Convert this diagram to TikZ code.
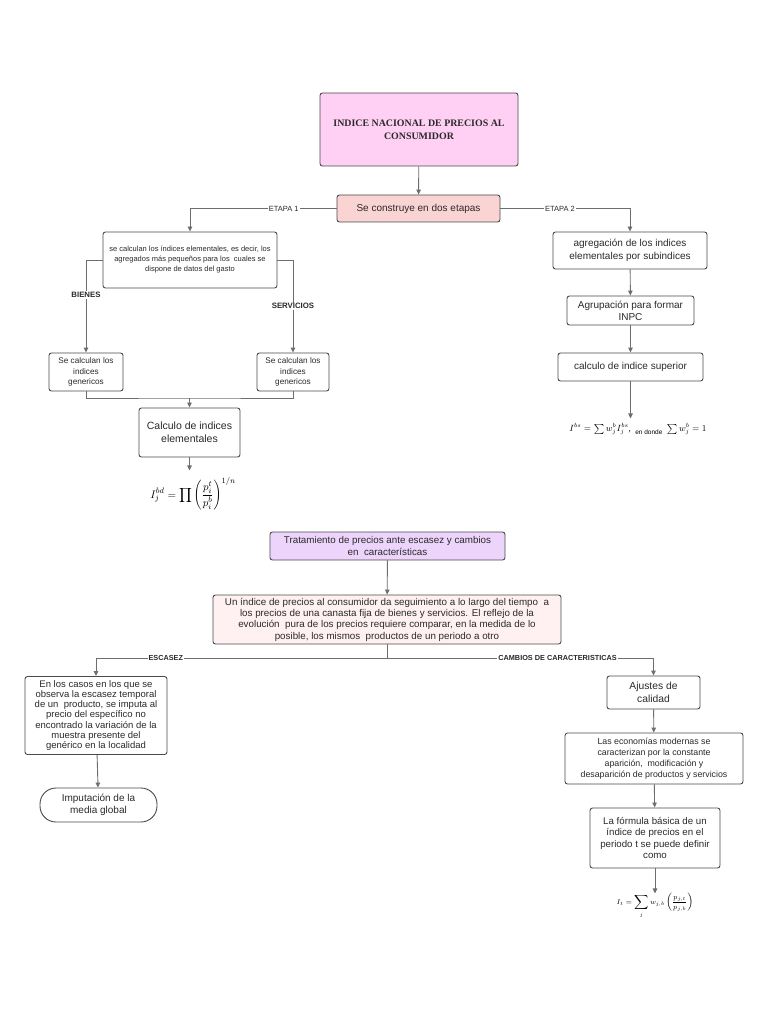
\documentclass[tikz,border=0pt]{standalone}
\usepackage{fontspec}
\setmainfont{Liberation Serif}
\setsansfont{Liberation Sans}
\usetikzlibrary{arrows.meta}
\definecolor{boxline}{HTML}{4A4A4A}
\definecolor{lineg}{HTML}{6E6E6E}
\definecolor{textc}{HTML}{2A2A2A}
\definecolor{pinkT}{HTML}{FFD0F4}
\definecolor{salmon}{HTML}{FAD3D3}
\definecolor{lavender}{HTML}{EDD4FB}
\definecolor{lightpink}{HTML}{FFF1F1}
\begin{document}
\begin{tikzpicture}[x=1pt,y=-1pt,
  box/.style={draw=boxline, line width=0.9pt, rounded corners=2.5pt, fill=white, align=center, inner sep=0pt, text=textc},
  conn/.style={draw=lineg, line width=0.9pt},
  arr/.style={conn, -{Triangle[length=5pt,width=4.5pt]}},
  lbl/.style={fill=white, inner sep=1pt, text=textc, font=\sffamily\fontsize{7.5}{8}\selectfont},
  blbl/.style={lbl, font=\sffamily\bfseries\fontsize{7.8}{8}\selectfont},
  slbl/.style={lbl, font=\sffamily\bfseries\fontsize{7.3}{8}\selectfont}
]
\useasboundingbox[fill=white] (0,0) rectangle (768,1024);

% ---------- top part ----------
\node[box, fill=pinkT, minimum width=198pt, minimum height=73pt,
      font=\rmfamily\bfseries\fontsize{9.9}{13}\selectfont] (title) at (419,129.5)
  {INDICE NACIONAL DE PRECIOS AL\\CONSUMIDOR};
\node[box, fill=salmon, minimum width=163pt, minimum height=27pt,
      font=\sffamily\fontsize{10}{12}\selectfont] (se) at (418.5,208.5)
  {Se construye en dos etapas};

\node[box, minimum width=174pt, minimum height=56pt,
      font=\sffamily\fontsize{7.5}{10}\selectfont] (sc) at (190,260)
  {se calculan los índices elementales, es decir, los\\agregados más pequeños para los \ cuales se\\dispone de datos del gasto};
\node[box, minimum width=74pt, minimum height=38pt,
      font=\sffamily\fontsize{8.2}{10.5}\selectfont] (bl) at (86,372)
  {Se calculan los\\indices\\genericos};
\node[box, minimum width=72pt, minimum height=38pt,
      font=\sffamily\fontsize{8.2}{10.5}\selectfont] (br) at (293,372)
  {Se calculan los\\indices\\genericos};
\node[box, minimum width=101pt, minimum height=49pt,
      font=\sffamily\fontsize{10.5}{13}\selectfont] (calc) at (189.5,432.5)
  {Calculo de indices\\elementales};
\node[inner sep=1pt, font=\fontsize{11}{13}\selectfont] (f1) at (193,494)
  {$\displaystyle I_j^{bd}=\prod\left(\frac{p_i^t}{p_i^b}\right)^{1/n}$};

\node[box, minimum width=154pt, minimum height=37pt,
      font=\sffamily\fontsize{10}{12.5}\selectfont] (agg) at (630,250.5)
  {agregación de los indices\\elementales por subindices};
\node[box, minimum width=127pt, minimum height=29pt,
      font=\sffamily\fontsize{10}{12}\selectfont] (agr) at (630.5,310.5)
  {Agrupación para formar\\INPC};
\node[box, minimum width=145pt, minimum height=28pt,
      font=\sffamily\fontsize{10}{12}\selectfont] (sup) at (630.5,367)
  {calculo de indice superior};
\node[inner sep=1pt, font=\fontsize{9}{11}\selectfont] (f2) at (638,429)
  {$I^{bs}=\sum w_j^b I_j^{bs}$,\ \ \raisebox{-3pt}{\sffamily\fontsize{6.5}{7}\selectfont en donde}\ \ $\sum w_j^b=1$};

% connectors top
\draw[arr] (title) -- (se);
\draw[arr] (se.west) -| (sc.north) node[lbl, pos=0.18] {ETAPA 1};
\draw[arr] (se.east) -| (agg.north) node[lbl, pos=0.23] {ETAPA 2};
\draw[arr] (sc.west) -| (bl.north) node[blbl, pos=0.69] {BIENES};
\draw[arr] (sc.east) -| (br.north) node[blbl, pos=0.75] {SERVICIOS};
\coordinate (m) at (189.5,398);
\draw[conn] (bl.south) |- (m) -| (br.south);
\draw[arr] (m) -- (calc.north);
\draw[arr] (calc.south) -- ++(0,13) coordinate (c1);
\draw[arr] (agg) -- (agr);
\draw[arr] (agr) -- (sup);
\draw[arr] (sup.south) -- ++(0,37) coordinate (c2);

% ---------- bottom part ----------
\node[box, fill=lavender, minimum width=235pt, minimum height=28pt,
      font=\sffamily\fontsize{9.8}{11.5}\selectfont] (trat) at (387.5,546)
  {Tratamiento de precios ante escasez y cambios\\en \ características};
\node[box, fill=lightpink, minimum width=348pt, minimum height=49pt,
      font=\sffamily\fontsize{9.8}{11.3}\selectfont] (uni) at (387,619.5)
  {Un índice de precios al consumidor da seguimiento a lo largo del tiempo \ a\\los precios de una canasta fija de bienes y servicios. El reflejo de la\\evolución \ pura de los precios requiere comparar, en la medida de lo\\posible, los mismos \ productos de un periodo a otro};
\node[box, minimum width=142pt, minimum height=78pt,
      font=\sffamily\fontsize{9.5}{10.3}\selectfont] (esc) at (96,715.5)
  {En los casos en los que se\\observa la escasez temporal\\de un \ producto, se imputa al\\precio del específico no\\encontrado la variación de la\\muestra presente del\\genérico en la localidad};
\node[box, rounded corners=16pt, minimum width=117pt, minimum height=34pt,
      font=\sffamily\fontsize{10}{12}\selectfont] (imp) at (98.5,805)
  {Imputación de la\\media global};
\node[box, minimum width=93pt, minimum height=33pt,
      font=\sffamily\fontsize{10.3}{12.5}\selectfont] (aju) at (653.5,692.5)
  {Ajustes de\\calidad};
\node[box, minimum width=178pt, minimum height=51pt,
      font=\sffamily\fontsize{8.8}{11}\selectfont] (eco) at (654,758.5)
  {Las economías modernas se\\caracterizan por la constante\\aparición, \ modificación y\\desaparición de productos y servicios};
\node[box, minimum width=130pt, minimum height=60pt,
      font=\sffamily\fontsize{9.7}{11.5}\selectfont] (form) at (655,838)
  {La fórmula básica de un\\índice de precios en el\\periodo t se puede definir\\como};
\node[inner sep=1pt, font=\fontsize{7}{9}\selectfont] (f3) at (655,906)
  {$\displaystyle I_t=\sum_j w_{j,b}\left(\frac{p_{j,t}}{p_{j,b}}\right)$};

% connectors bottom
\draw[arr] (trat) -- (uni);
\coordinate (j) at (387,658);
\draw[conn] (uni.south) -- (j);
\draw[arr] (j) -| (esc.north) node[slbl, pos=0.38] {ESCASEZ};
\draw[arr] (j) -| (aju.north) node[slbl, pos=0.32] {CAMBIOS DE CARACTERISTICAS};
\draw[arr] (esc) -- (imp);
\draw[arr] (aju) -- (eco);
\draw[arr] (eco) -- (form);
\draw[arr] (form.south) -- ++(0,25) coordinate (c3);
\end{tikzpicture}
\end{document}
